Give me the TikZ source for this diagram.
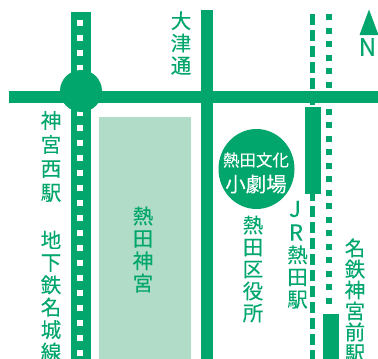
\documentclass[tikz,border=0pt]{standalone}
\usepackage{fontspec}
\setmainfont[FakeBold=0.12]{Noto Sans CJK JP}
\definecolor{mg}{RGB}{0,166,108}
\definecolor{lg}{RGB}{176,220,200}
\tikzset{
  col/.style={inner sep=0pt,outer sep=0pt,align=center,text=mg,font=\fontsize{20.5}{#1}\selectfont},
  col/.default=22.4,
  latin/.style={inner sep=0pt,outer sep=0pt,text=mg,font=\fontsize{#1}{#1}\selectfont},
  fillg/.style={fill=mg,draw=none},
  hole/.style={fill=white,draw=none},
}
\begin{document}
\begin{tikzpicture}[x=1pt,y=-1pt]
\path[use as bounding box,fill=white] (0,0) rectangle (378,359);
% park
\fill[lg] (99,117) rectangle (191,359);
% left rail
\fill[fillg] (71,12) rectangle (91,359);
\foreach \k in {0,...,22}{\fill[hole] (77,20+15*\k) rectangle (83,26+15*\k);}
% JR dashed
\foreach \k in {0,...,21}{\fill[fillg] (310,14+16*\k) rectangle (315,25+16*\k);}
% Meitetsu dotted
\foreach \k in {0,...,21}{\fill[fillg] (326,14+13.5*\k) rectangle (332,20+13.5*\k);}
% roads
\fill[fillg] (201,10) rectangle (213,359);
\fill[fillg] (9,91) rectangle (378,103);
\fill[fillg] (81,91) circle[radius=21];
% stations
\fill[fillg] (305,107) rectangle (321,193.5);
\fill[fillg] (323,314) rectangle (339,359);
% north
\fill[fillg] (369,9.5) -- (378.5,35) -- (359.5,35) -- cycle;
\node[latin=24] (north) at (367.5,47) {N};
% labels
\node[col] (otsu) at (181,43) {大\\津\\通};
\node[col=24] (jingu) at (51,156.5) {神\\宮\\西\\駅};
\node[col] (subway) at (51,296) {地\\下\\鉄\\名\\城\\線};
\node[col] (shrine) at (143,249.5) {熱\\田\\神\\宮};
\node[col=22] (ward) at (253,269) {熱\\田\\区\\役\\所};
\node[latin=22] (jrJ) at (295,209) {J};
\node[latin=22] (jrR) at (296,232.5) {R};
\node[col=22.2] (jr) at (297.5,277) {熱\\田\\駅};
\node[col=21] (meitetsu) at (355,300.5) {名\\鉄\\神\\宮\\前\\駅};
% theatre
\fill[fillg] (256.5,169) ellipse[x radius=38,y radius=40];
\node[inner sep=0pt,text=white,font=\fontsize{16.5}{16.5}\selectfont] (theatreA) at (256,160) {熱田文化};
\node[inner sep=0pt,text=white,font=\fontsize{20.5}{20.5}\selectfont] (theatreB) at (256,184) {小劇場};
\end{tikzpicture}
\end{document}
